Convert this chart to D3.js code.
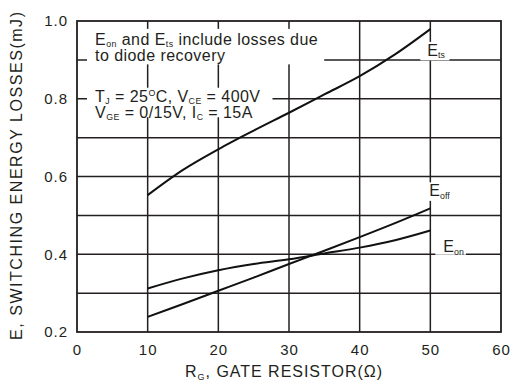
<!DOCTYPE html>
<html>
<head>
<meta charset="utf-8">
<script src="https://cdn.jsdelivr.net/npm/d3@7"></script>
<style>
  html, body { margin: 0; padding: 0; background: #fff; }
  svg { display: block; font-family: "Liberation Sans", Arial, Helvetica, sans-serif; }
</style>
</head>
<body>
<svg id="chart" width="513" height="387"></svg>
<script>
// Gate resistor sweep (ohms) and switching energy per curve (mJ)
const gateResistor = [10, 15, 20, 25, 30, 35, 40, 45, 50];
const eTs  = [0.552, 0.617, 0.670, 0.718, 0.764, 0.811, 0.858, 0.914, 0.979];
const eOn  = [0.312, 0.338, 0.359, 0.375, 0.387, 0.402, 0.417, 0.436, 0.461];
const eOff = [0.239, 0.272, 0.306, 0.340, 0.375, 0.409, 0.444, 0.480, 0.518];

const xTickValues = [0, 10, 20, 30, 40, 50, 60];
const yGridValues = [0.3, 0.4, 0.5, 0.6, 0.7, 0.8, 0.9];
const yLabelValues = [0.2, 0.4, 0.6, 0.8, 1.0];

const ink = "#231f20";
const W = 513, H = 387;
const m = { left: 77, top: 21, right: 12, bottom: 55 };

const svg = d3.select("#chart");
const x = d3.scaleLinear().domain([0, 60]).range([m.left, W - m.right]);
const y = d3.scaleLinear().domain([0.2, 1.0]).range([H - m.bottom, m.top]);

// grid
const grid = svg.append("g").attr("stroke", ink).attr("stroke-width", 1.5);
grid.selectAll(".vg").data(xTickValues.slice(1, -1)).join("line")
  .attr("x1", d => x(d)).attr("x2", d => x(d))
  .attr("y1", y(0.2)).attr("y2", y(1.0));
grid.selectAll(".hg").data(yGridValues).join("line")
  .attr("x1", x(0)).attr("x2", x(60))
  .attr("y1", d => y(d)).attr("y2", d => y(d));

// frame
svg.append("rect")
  .attr("x", x(0)).attr("y", y(1.0))
  .attr("width", x(60) - x(0)).attr("height", y(0.2) - y(1.0))
  .attr("fill", "none").attr("stroke", ink).attr("stroke-width", 1.8);

// axes (labels only, the frame carries the lines)
const xAxis = svg.append("g").attr("transform", `translate(0,${y(0.2)})`)
  .call(d3.axisBottom(x).tickValues(xTickValues).tickSize(0).tickPadding(12).tickFormat(d3.format("d")));
xAxis.select(".domain").remove();
xAxis.selectAll("text").attr("font-size", 15).attr("fill", ink)
  .attr("font-family", "Liberation Sans, Arial, sans-serif").attr("letter-spacing", 1);

const yAxis = svg.append("g").attr("transform", `translate(${x(0)},0)`)
  .call(d3.axisLeft(y).tickValues(yLabelValues).tickSize(0).tickPadding(9).tickFormat(d3.format(".1f")));
yAxis.select(".domain").remove();
yAxis.selectAll("text").attr("font-size", 15).attr("fill", ink)
  .attr("font-family", "Liberation Sans, Arial, sans-serif").attr("letter-spacing", 1);

// curves
const line = d3.line().x(d => x(d[0])).y(d => y(d[1])).curve(d3.curveCatmullRom.alpha(0.5));
[eTs, eOn, eOff].forEach(series => {
  svg.append("path")
    .datum(gateResistor.map((r, i) => [r, series[i]]))
    .attr("d", line)
    .attr("fill", "none").attr("stroke", "#111").attr("stroke-width", 2);
});

// text helper: parts are [string, "sub"|"sup"|null]
function richText(g, px, py, parts, size, opts = {}) {
  const t = g.append("text").attr("x", px).attr("y", py)
    .attr("font-size", size).attr("fill", ink);
  if (opts.spacing) t.attr("letter-spacing", opts.spacing);
  let shift = 0;
  parts.forEach(([s, kind]) => {
    const ts = t.append("tspan").text(s);
    const want = kind === "sub" ? 2.5 : kind === "sup" ? -6 : 0;
    if (want !== shift) { ts.attr("dy", want - shift); shift = want; }
    if (kind) ts.attr("font-size", size * 0.55);
  });
  return t;
}

// note blocks with white backing boxes
function noteBlock(lines, px, py0, lead, size, pad) {
  const g = svg.append("g");
  const bg = g.append("rect").attr("fill", "#fff");
  lines.forEach((parts, i) => richText(g, px, py0 + i * lead, parts, size, { spacing: 0.45 }));
  const b = g.node().getBBox();
  bg.attr("x", b.x - pad[0]).attr("y", b.y - pad[1])
    .attr("width", b.width + pad[0] + pad[2]).attr("height", b.height + pad[1] + pad[3]);
  return g;
}

noteBlock([
  [["E"], ["on", "sub"], [" and E"], ["ts", "sub"], [" include losses due"]],
  [["to diode recovery"]]
], x(0) + 18, y(0.9) - 15, 16.5, 16, [8, 2, 6, 0]);

noteBlock([
  [["T"], ["J", "sub"], [" = 25"], ["O", "sup"], ["C, V"], ["CE", "sub"], [" = 400V"]],
  [["V"], ["GE", "sub"], [" = 0/15V, I"], ["C", "sub"], [" = 15A"]]
], x(0) + 18, y(0.8) + 3, 16, 16, [8, 0, 12, -5]);

// curve labels
function curveLabel(name, sub, px, py, pad) {
  const g = svg.append("g");
  const bg = g.append("rect").attr("fill", "#fff");
  richText(g, px, py, [[name], [sub, "sub"]], 16);
  const b = g.node().getBBox();
  bg.attr("x", b.x - pad[0]).attr("y", b.y - pad[1])
    .attr("width", b.width + pad[0] + pad[2]).attr("height", b.height + pad[1] + pad[3]);
}
curveLabel("E", "ts",  x(50) - 3,  y(0.9) - 4,  [7, 0, 4, 0]);
curveLabel("E", "off", x(50) - 1,  y(0.5) - 19, [6, 0, 4, 0]);
curveLabel("E", "on",  x(50) + 13, y(0.4) - 2,  [8, -4, 2, -2]);

// axis titles
const xt = svg.append("text").attr("x", 185).attr("y", 377)
  .attr("font-size", 16).attr("fill", ink);
xt.append("tspan").text("R");
xt.append("tspan").text("G").attr("font-size", 9).attr("dy", 3);
xt.append("tspan").text(", GATE RESISTOR(Ω)").attr("dy", -3);
xt.attr("textLength", 197).attr("lengthAdjust", "spacing");

svg.append("text")
  .attr("transform", `translate(22,${(y(0.2) + 4 + 8) / 2 + 4}) rotate(-90)`)
  .attr("text-anchor", "middle")
  .attr("font-size", 16).attr("fill", ink)
  .attr("textLength", 328).attr("lengthAdjust", "spacing")
  .text("E, SWITCHING ENERGY LOSSES(mJ)");
</script>
</body>
</html>
